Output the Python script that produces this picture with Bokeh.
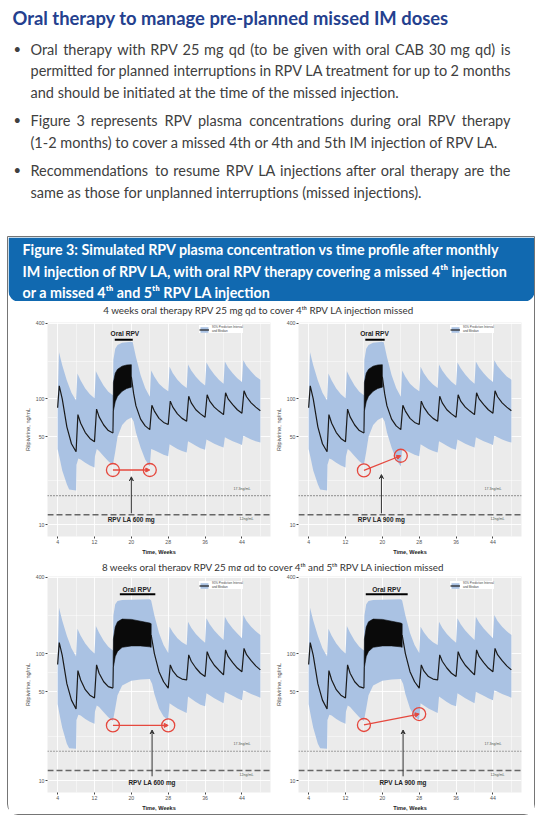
from bokeh.plotting import figure
from bokeh.layouts import column, row
from bokeh.models import (Range1d, FixedTicker, Span, Arrow, NormalHead, VeeHead,
                          Legend, LegendItem, PrintfTickFormatter)
from bokeh.core.properties import value
from bokeh.embed import file_html
from bokeh.resources import INLINE

# ---------------- texts ----------------
TITLE = "Oral therapy to manage pre-planned missed IM doses"
BULLET_LINES = [
    "Oral therapy with RPV 25 mg qd (to be given with oral CAB 30 mg qd) is",
    "permitted for planned interruptions in RPV LA treatment for  up to 2 months",
    "and should be initiated at the time of the missed injection.",
    "Figure 3 represents RPV plasma concentrations during oral RPV therapy",
    "(1-2 months) to cover a missed 4th or 4th and 5th IM injection of RPV LA.",
    "Recommendations to resume RPV LA injections after oral therapy are the",
    "same as those for unplanned interruptions (missed injections).",
]
BULLET_FIRST = [True, False, False, True, False, True, False]
BULLET_JUSTIFY = [True, True, False, True, False, True, False]
HEADER_LINES = [
    "Figure 3: Simulated RPV plasma concentration vs time profile after monthly",
    "IM injection of RPV LA, with oral RPV therapy covering a missed 4\u1d57\u02b0 injection",
    "or a missed 4\u1d57\u02b0 and 5\u1d57\u02b0 RPV LA injection",
]
SUBTITLES = [
    "4 weeks oral therapy RPV 25 mg qd to cover 4\u1d57\u02b0 RPV LA injection missed",
    "8 weeks oral therapy RPV 25 mg qd to cover 4\u1d57\u02b0 and 5\u1d57\u02b0 RPV LA injection missed",
]

# ---------------- axis values ----------------
X_TICKS = [4, 12, 20, 28, 36, 44]
X_MINOR = [8, 16, 24, 32, 40, 48]
Y_TICKS = [10, 50, 100, 400]
Y_MINOR = [22.4, 70.7, 200]
THRESHOLDS = [17, 12]
THRESH_LABELS = ["17.3ng/mL", "12ng/mL"]

# ---------------- scenario: 4 weeks oral (top panels) ----------------
M4_PRE_T = [4.0, 4.35, 5, 6, 7, 8, 8.4, 9, 10, 11, 12, 12.45, 13, 14, 15, 16]
M4_PRE_V = [85, 127, 100, 60, 44, 38, 75, 64, 54, 48.5, 45.7, 83, 72, 62, 56, 53.5]
M4_POST_T = [20.0, 20.5, 21, 22, 23, 24, 24.45, 25, 26, 27, 28, 28.45, 29, 30, 31, 32,
             32.45, 33, 34, 35, 36, 36.45, 37, 38, 39, 40, 40.45, 41, 42, 43, 44,
             44.45, 45, 46, 47, 48]
M4_POST_V = [150, 110, 88, 69, 61, 57, 89, 80, 70, 65, 62.5, 96, 86, 76, 70, 66.5,
             105, 93, 82, 76, 71.5, 108, 96, 86, 80, 75, 112, 100, 90, 82, 77,
             116, 104, 93, 86, 80.5]
O4_T = [16.0, 16.1, 16.5, 17, 18, 19, 20]
O4_LO = [53.5, 80, 95, 105, 115, 121, 124]
O4_HI = [53.5, 135, 160, 172, 182, 186, 187]
P4_UP_T = [4.0, 4.3, 5, 6, 7, 8, 8.3, 9, 10, 11, 12, 12.3, 13, 14, 15, 16,
           16.1, 16.5, 17, 18, 20, 20.3, 21, 22, 23, 24, 24.3, 25, 26, 27, 28,
           28.3, 29, 30, 31, 32, 32.3, 33, 34, 35, 36, 36.3, 37, 38, 39, 40,
           40.3, 41, 42, 43, 44, 44.3, 45, 46, 47, 48]
P4_UP_V = [95, 235, 185, 140, 112, 97, 159, 140, 121, 109, 101, 166, 147, 127, 114, 107,
           205, 250, 268, 280, 285, 282, 215, 155, 122, 104, 168, 150, 132, 122, 115,
           180, 160, 142, 130, 122, 188, 168, 150, 137, 128, 195, 175, 156, 142, 132,
           198, 178, 160, 146, 136, 203, 183, 165, 151, 142]
P4_LO_T = [4.0, 4.5, 5, 6, 6.5, 8, 8.1, 8.5, 9, 10, 11, 12, 12.1, 12.5, 13, 14, 15, 16,
           16.5, 17, 18, 19, 20, 20.5, 21, 22, 23, 24, 24.3, 25, 26, 27, 28,
           28.3, 29, 30, 31, 32, 32.3, 33, 34, 35, 36, 36.3, 37, 38, 39, 40,
           40.3, 41, 42, 43, 44, 44.3, 45, 46, 47, 48]
P4_LO_V = [40, 33, 27, 21, 19, 18.7, 30, 33.5, 33, 31, 29.5, 28.5, 35, 40, 38.5, 35, 32, 30,
           38, 50, 62, 68, 71, 66, 54, 41, 33, 29, 40, 39, 37.5, 36, 35,
           43.5, 42, 40, 38.5, 37.5, 46, 44.5, 42.5, 40.5, 39.5, 47.5, 46, 44, 42.5, 41,
           49.5, 48, 46, 44.5, 43, 51, 49.5, 47.5, 46, 45]

# ---------------- scenario: 8 weeks oral (bottom panels) ----------------
M8_PRE_T = [4.0, 4.35, 5, 6, 7, 8, 8.4, 9, 10, 11, 12, 12.45, 13, 14, 15, 16]
M8_PRE_V = [82, 122, 97, 58, 43, 36.6, 73.5, 62, 52, 47, 44.7, 81.5, 70, 60, 55, 53.5]
M8_POST_T = [24.3, 25, 26, 27, 28, 28.45, 29, 30, 31, 32, 32.45, 33, 34, 35, 36,
             36.45, 37, 38, 39, 40, 40.45, 41, 42, 43, 44, 44.45, 45, 46, 47, 48]
M8_POST_V = [140, 100, 72, 60, 53.5, 81.5, 73, 66, 63, 62, 97.7, 87, 77, 70, 66,
             103.7, 92, 81, 74, 68, 107, 95, 85, 77, 72, 110, 98, 88, 80, 74.5]
O8_T = [16.0, 16.1, 16.5, 17, 18, 20, 22, 24, 24.3]
O8_LO = [53.5, 78, 95, 104, 112, 115, 115, 113, 112]
O8_HI = [53.5, 130, 162, 178, 187, 186, 180, 174, 172]
P8_UP_T = [4.0, 4.3, 5, 6, 7, 8, 8.3, 9, 10, 11, 12, 12.3, 13, 14, 15, 16,
           16.1, 16.5, 17, 18, 24, 24.3, 25, 26, 27, 28,
           28.3, 29, 30, 31, 32, 32.3, 33, 34, 35, 36, 36.3, 37, 38, 39, 40,
           40.3, 41, 42, 43, 44, 44.3, 45, 46, 47, 48]
P8_UP_V = [95, 230, 182, 138, 110, 95, 157, 138, 120, 108, 100, 165, 146, 126, 113, 106,
           200, 245, 260, 265, 268, 262, 200, 145, 117, 101,
           163, 147, 132, 123, 117, 178, 160, 143, 131, 122, 190, 170, 152, 139, 128,
           195, 176, 158, 144, 132, 201, 181, 163, 150, 140]
P8_LO_T = [4.0, 4.5, 5, 6, 6.5, 8, 8.1, 8.5, 9, 10, 11, 12, 12.1, 12.5, 13, 14, 15, 16,
           16.5, 17, 18, 20, 22, 24, 24.5, 25, 26, 27, 28,
           28.3, 29, 30, 31, 32, 32.3, 33, 34, 35, 36, 36.3, 37, 38, 39, 40,
           40.3, 41, 42, 43, 44, 44.3, 45, 46, 47, 48]
P8_LO_V = [40, 32, 26, 19.5, 18, 17.8, 30, 33, 32.5, 30.5, 29, 28, 35, 39, 38, 34.5, 31.5, 29.5,
           37, 47, 56, 61, 62.5, 63, 58, 48, 37, 32, 30,
           40.7, 39, 37, 35.5, 34, 46, 44, 41.5, 39.5, 38.4, 48.7, 47, 44.5, 42.5, 40.7,
           50, 48.5, 46.5, 44.5, 43, 51.5, 50, 48, 46.5, 45]

SCEN = {
    4: dict(pre_t=M4_PRE_T, pre_v=M4_PRE_V, post_t=M4_POST_T, post_v=M4_POST_V,
            o_t=O4_T, o_lo=O4_LO, o_hi=O4_HI,
            up_t=P4_UP_T, up_v=P4_UP_V, lo_t=P4_LO_T, lo_v=P4_LO_V),
    8: dict(pre_t=M8_PRE_T, pre_v=M8_PRE_V, post_t=M8_POST_T, post_v=M8_POST_V,
            o_t=O8_T, o_lo=O8_LO, o_hi=O8_HI,
            up_t=P8_UP_T, up_v=P8_UP_V, lo_t=P8_LO_T, lo_v=P8_LO_V),
}

# ---------------- annotations per panel (TL, TR, BL, BR) ----------------
PANEL_SCEN = [4, 4, 8, 8]
DOSE_LABEL = ["RPV LA 600 mg", "RPV LA 900 mg", "RPV LA 600 mg", "RPV LA 900 mg"]
CIRC_T0 = [16, 16, 16, 16]
CIRC_V0 = [27.2, 27.0, 27.2, 27.4]
CIRC_T1 = [24, 24, 28, 28]
CIRC_V1 = [27.2, 35.3, 27.2, 33.4]
ARROW_T = [20, 19.8, 24.5, 24.5]
ARROW_V0 = [12.3, 12.3, 10.8, 10.8]
ARROW_V1 = [24, 25, 25, 25]
DOSE_V = [11.0, 11.0, 9.7, 9.7]
ORAL_T = [18.6, 18.3, 21.2, 20.9]
ORAL_V = [333, 333, 320, 320]
BAR_T0 = [16.4, 16.3, 17.5, 16.4]
BAR_T1 = [20.3, 20.5, 25.2, 25.5]
BAR_V = [295, 295, 294, 294]
THR_LBL_T = [44.0, 45.0]
THR_LBL_V = [19.3, 11.0]

# ---------------- style ----------------
BAND = "#aac2e3"
RED = "#e5483e"
PANEL_BG = "#ebebeb"
FONT = "Liberation Sans"
SLIDE_FONT = "Lato"

# approximate advance widths (em) of the slide font, used only to justify lines
_W = {" ": .193, "a": .49, "b": .55, "c": .45, "d": .55, "e": .51, "f": .31, "g": .49,
      "h": .55, "i": .23, "j": .23, "k": .48, "l": .23, "m": .83, "n": .55, "o": .55,
      "p": .55, "q": .55, "r": .35, "s": .41, "t": .33, "u": .55, "v": .49, "w": .75,
      "x": .47, "y": .49, "z": .43, "A": .65, "B": .61, "C": .65, "D": .73, "E": .54,
      "F": .52, "G": .70, "H": .74, "I": .28, "J": .39, "K": .63, "L": .48, "M": .89,
      "N": .74, "O": .77, "P": .57, "Q": .77, "R": .60, "S": .51, "T": .56, "U": .71,
      "V": .65, "W": .99, "X": .62, "Y": .59, "Z": .59, "(": .29, ")": .29, ".": .21,
      ",": .21, "-": .33}


def est_width(s, fs):
    return sum(_W.get(c, .55) for c in s) * fs * 1.04


def bare(p):
    p.axis.visible = False
    p.grid.visible = False
    p.outline_line_color = None
    p.background_fill_color = None
    p.border_fill_color = None


# ---------------- top text block ----------------
head = figure(width=536, height=229, x_range=Range1d(0, 536), y_range=Range1d(229, 0),
              output_backend="svg", toolbar_location=None, min_border=0)
bare(head)
head.text(x=[4], y=[9.5], text=[TITLE], text_font=value(SLIDE_FONT), text_font_style="bold",
          text_font_size="18.4px", text_color="#24408e", text_baseline="middle")

BFS = 14.5
X0, X1 = 22, 502
LINE_Y = [40.5, 62, 83.5, 111.5, 133.5, 161.5, 183.5]
lx, ly, lt, rx, ry, rt = [], [], [], [], [], []
for line, yy, just in zip(BULLET_LINES, LINE_Y, BULLET_JUSTIFY):
    if not just:
        lx.append(X0); ly.append(yy); lt.append(line)
        continue
    words = line.split()
    widths = [est_width(w, BFS) for w in words]
    gap = (X1 - X0 - sum(widths)) / (len(words) - 1)
    xx = X0
    for k, (w, wd) in enumerate(zip(words, widths)):
        if k == len(words) - 1:
            rx.append(X1); ry.append(yy); rt.append(w)
        else:
            lx.append(xx); ly.append(yy); lt.append(w)
        xx += wd + gap
head.text(x=lx, y=ly, text=lt, text_font=value(SLIDE_FONT), text_font_size=f"{BFS}px",
          text_color="#404040", text_baseline="middle")
head.text(x=rx, y=ry, text=rt, text_font=value(SLIDE_FONT), text_font_size=f"{BFS}px",
          text_color="#404040", text_baseline="middle", text_align="right")
by = [y for y, f in zip(LINE_Y, BULLET_FIRST) if f]
head.text(x=[5] * len(by), y=by, text=["\u2022"] * len(by), text_font=value(SLIDE_FONT),
          text_font_size="13px", text_color="#404040", text_baseline="middle")

# ---------------- blue header ----------------
BOXW = 526
hdr = figure(width=BOXW, height=64, x_range=Range1d(0, BOXW), y_range=Range1d(64, 0),
             output_backend="svg", toolbar_location=None, min_border=0)
bare(hdr)
hdr.quad(left=[0], right=[BOXW], top=[0], bottom=[64], fill_color="#1169b0", line_color=None,
         border_radius=(0, 0, 10, 10))
hdr.text(x=[14] * 3, y=[12.3, 34, 54.7], text=HEADER_LINES, text_font=value(SLIDE_FONT),
         text_font_style="bold", text_font_size="14.3px", text_color="white", text_baseline="middle")


def subtitle(txt, h, xc, yc):
    s = figure(width=BOXW, height=h, x_range=Range1d(0, BOXW), y_range=Range1d(h, 0),
               output_backend="svg", toolbar_location=None, min_border=0)
    bare(s)
    s.text(x=[xc], y=[yc], text=[txt], text_font=value(SLIDE_FONT), text_font_size="9.8px",
           text_color="#333333", text_align="center", text_baseline="middle")
    return s


def panel(i, width, left, right, top, bottom, frame_h):
    sc = SCEN[PANEL_SCEN[i]]
    p = figure(width=width, height=top + frame_h + bottom, x_range=Range1d(1.8, 50.2),
               y_range=Range1d(8.05, 405), y_axis_type="log", output_backend="svg",
               toolbar_location=None, min_border_left=left, min_border_right=right,
               min_border_top=top, min_border_bottom=bottom)
    p.background_fill_color = PANEL_BG
    p.border_fill_color = "white"
    p.outline_line_color = None
    p.xaxis.ticker = FixedTicker(ticks=X_TICKS, minor_ticks=X_MINOR)
    p.yaxis.ticker = FixedTicker(ticks=Y_TICKS, minor_ticks=Y_MINOR)
    p.yaxis.formatter = PrintfTickFormatter(format="%d")
    for ax in (p.xaxis, p.yaxis):
        ax.axis_line_color = None
        ax.major_tick_line_color = "#444444"
        ax.major_tick_out = 2
        ax.major_tick_in = 0
        ax.minor_tick_out = 0
        ax.minor_tick_in = 0
        ax.major_label_text_font = FONT
        ax.major_label_text_font_size = "5.2px"
        ax.major_label_text_color = "#555555"
        ax.major_label_standoff = 1
        ax.axis_label_text_font = FONT
        ax.axis_label_text_font_size = "5.6px"
    p.xaxis.axis_label = "Time, Weeks"
    p.xaxis.axis_label_text_font_style = "bold"
    p.xaxis.axis_label_text_color = "#222222"
    p.xaxis.axis_label_standoff = 2
    p.yaxis.axis_label = "Rilpivirine, ng/mL"
    p.yaxis.axis_label_text_font_style = "normal"
    p.yaxis.axis_label_text_color = "#444444"
    p.yaxis.axis_label_standoff = 2
    p.grid.grid_line_color = "white"
    p.grid.grid_line_width = 0.9
    p.grid.minor_grid_line_color = "white"
    p.grid.minor_grid_line_width = 0.45

    bx = list(sc["up_t"]) + list(sc["lo_t"])[::-1]
    byy = list(sc["up_v"]) + list(sc["lo_v"])[::-1]
    band = p.patch(bx, byy, fill_color=BAND, line_color=None)
    ox = list(sc["o_t"]) + list(sc["o_t"])[::-1]
    oy = list(sc["o_hi"]) + list(sc["o_lo"])[::-1]
    p.patch(ox, oy, fill_color="#0a0a0a", line_color="#0a0a0a", line_width=0.6)
    med = p.line(sc["pre_t"], sc["pre_v"], line_color="#1a1a1a", line_width=1.2)
    p.line(sc["post_t"], sc["post_v"], line_color="#1a1a1a", line_width=1.2)

    p.add_layout(Span(location=THRESHOLDS[0], dimension="width", line_color="#555555",
                      line_dash="1 2", line_width=1.1))
    p.add_layout(Span(location=THRESHOLDS[1], dimension="width", line_color="#666666",
                      line_dash="6 3", line_width=1.6))
    p.text(x=THR_LBL_T, y=THR_LBL_V, text=THRESH_LABELS, text_font=value(FONT),
           text_font_size="3.6px", text_color="#555555", text_align="center",
           text_baseline="middle")

    p.text(x=[ORAL_T[i]], y=[ORAL_V[i]], text=["Oral RPV"], text_font=value(FONT),
           text_font_style="bold", text_font_size="6.6px", text_color="#222222",
           text_align="center", text_baseline="middle")
    p.segment(x0=[BAR_T0[i]], y0=[BAR_V[i]], x1=[BAR_T1[i]], y1=[BAR_V[i]],
              line_color="black", line_width=2)

    p.scatter(x=[CIRC_T0[i], CIRC_T1[i]], y=[CIRC_V0[i], CIRC_V1[i]], marker="circle",
              size=13, fill_color=None, line_color=RED, line_width=1.3)
    p.add_layout(Arrow(end=NormalHead(size=4, fill_color=RED, line_color=RED),
                       x_start=CIRC_T0[i], y_start=CIRC_V0[i], x_end=CIRC_T1[i],
                       y_end=CIRC_V1[i], line_color=RED, line_width=1.3))

    p.add_layout(Arrow(end=VeeHead(size=4, fill_color="#333333", line_color="#333333"),
                       x_start=ARROW_T[i], y_start=ARROW_V0[i], x_end=ARROW_T[i],
                       y_end=ARROW_V1[i], line_color="#333333", line_width=1))
    p.text(x=[ARROW_T[i]], y=[DOSE_V[i]], text=[DOSE_LABEL[i]], text_font=value(FONT),
           text_font_style="bold", text_font_size="6.4px", text_color="#222222",
           text_align="center", text_baseline="middle")

    leg = Legend(items=[LegendItem(label="95% Prediction Interval\nand Median",
                                   renderers=[band, med])],
                 location=(152, 203), label_text_font=FONT, label_text_font_size="3px",
                 label_text_color="#444444", glyph_width=10, glyph_height=7,
                 label_standoff=3, padding=2, spacing=0, margin=0,
                 background_fill_color="white", background_fill_alpha=1,
                 border_line_color=None, label_height=7)
    p.add_layout(leg)
    return p


p1 = panel(0, 263, 39, 1, 6, 18, 217)
p2 = panel(1, 263, 27, 13, 6, 18, 217)
p3 = panel(2, 263, 39, 1, 5, 22, 216)
p4 = panel(3, 263, 27, 13, 5, 22, 216)

sub1 = subtitle(SUBTITLES[0], 15, 250.5, 8)
sub2 = subtitle(SUBTITLES[1], 14, 265, 9)

box = column(hdr, sub1, row(p1, p2), sub2, row(p3, p4),
             styles={"outline": "1.5px solid #757575", "border-radius": "0px 0px 10px 10px"})
page = column(head, box, margin=(8, 0, 0, 8))

open("out.html", "w").write(file_html(page, INLINE))
